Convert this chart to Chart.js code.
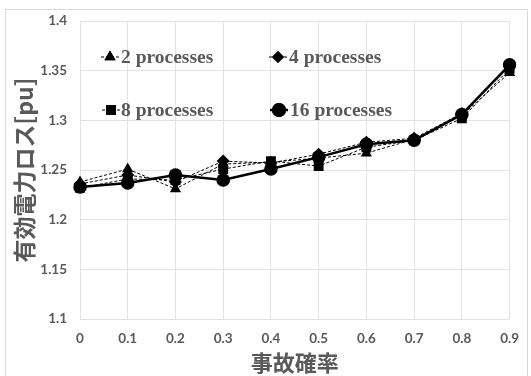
<!DOCTYPE html>
<html>
<head>
<meta charset="utf-8">
<script src="https://cdn.jsdelivr.net/npm/chart.js@4.4.0/dist/chart.umd.min.js"></script>
<style>
  html, body { margin: 0; padding: 0; background: #fff; overflow: hidden; }
  #frame { position: absolute; left: 5px; top: 9px; width: 521px; height: 400px; border: 1px solid #d9d9d9; }
  #wrap { position: absolute; left: 0; top: 0; width: 531px; height: 376px; }
</style>
</head>
<body>
<div id="frame"></div>
<div id="wrap"><canvas id="lossChart" width="531" height="376"></canvas></div>
<script>
const xLabels = ["0", "0.1", "0.2", "0.3", "0.4", "0.5", "0.6", "0.7", "0.8", "0.9"];

const proc2 = [1.238, 1.251, 1.231, 1.256, 1.258, 1.262, 1.267, 1.281, 1.305, 1.348];
const proc4 = [1.236, 1.245, 1.238, 1.259, 1.257, 1.266, 1.278, 1.282, 1.307, 1.354];
const proc8 = [1.232, 1.241, 1.240, 1.251, 1.259, 1.254, 1.273, 1.280, 1.302, 1.352];
const proc16 = [1.233, 1.237, 1.245, 1.240, 1.251, 1.263, 1.276, 1.280, 1.306, 1.356];

const Y_MIN = 1.1;
const Y_MAX = 1.4;
const Y_STEP = 0.05;

const GREY = "#595959";
const GRID = "#e3e3e3";

// legend laid out in 2x2 inside the plot, like the original
const legendSlots = [
  { mx: 110, tx: 121, y: 57, r: 6.5 },
  { mx: 278, tx: 289, y: 57, r: 6 },
  { mx: 111, tx: 121, y: 110, r: 7 },
  { mx: 279, tx: 290, y: 110, r: 7 }
];

const innerLegend = {
  id: "innerLegend",
  afterDraw(chart) {
    const ctx = chart.ctx;
    ctx.save();
    chart.data.datasets.forEach((ds, i) => {
      const s = legendSlots[i];
      ctx.strokeStyle = "#000";
      ctx.lineWidth = ds.borderWidth;
      ctx.setLineDash(ds.borderDash || []);
      ctx.beginPath();
      ctx.moveTo(s.mx - 9, s.y);
      ctx.lineTo(s.mx + 9, s.y);
      ctx.stroke();
      ctx.setLineDash([]);
      ctx.fillStyle = "#000";
      Chart.helpers.drawPoint(ctx, {
        pointStyle: ds.pointStyle,
        radius: s.r,
        borderWidth: 0,
        rotation: 0
      }, s.mx, s.y);
      ctx.fill();
      ctx.fillStyle = GREY;
      ctx.font = "bold 19.5px 'Liberation Serif'";
      ctx.textBaseline = "middle";
      ctx.textAlign = "left";
      ctx.fillText(ds.label, s.tx, s.y + 1);
    });
    ctx.restore();
  }
};

function makeSet(label, data, style, radius, width, dash) {
  return {
    label: label,
    data: data,
    borderColor: "#000",
    backgroundColor: "#000",
    borderWidth: width,
    borderDash: dash,
    pointStyle: style,
    pointRadius: radius,
    pointHoverRadius: radius,
    pointBackgroundColor: "#000",
    pointBorderColor: "#000",
    pointBorderWidth: 0,
    tension: 0
  };
}

const ctx = document.getElementById("lossChart").getContext("2d");

new Chart(ctx, {
  type: "line",
  data: {
    labels: xLabels,
    datasets: [
      makeSet("2 processes", proc2, "triangle", 6.5, 1, [3, 2]),
      makeSet("4 processes", proc4, "rectRot", 6.5, 1, [3, 2]),
      makeSet("8 processes", proc8, "rect", 7, 1, [3, 2]),
      makeSet("16 processes", proc16, "circle", 6.8, 2.5, [])
    ]
  },
  options: {
    responsive: false,
    animation: false,
    layout: { padding: { top: 20, right: 19, left: 0, bottom: 0 } },
    plugins: {
      legend: { display: false },
      tooltip: { enabled: false }
    },
    scales: {
      x: {
        offset: false,
        grid: { color: GRID, drawTicks: false },
        border: { display: false },
        ticks: {
          color: GREY,
          padding: 12,
          maxRotation: 0,
          autoSkip: false,
          font: { family: "Lato", size: 13.5, weight: "bold" }
        },
        title: {
          display: true,
          text: "事故確率",
          color: GREY,
          padding: { top: 0, bottom: 0 },
          font: { family: "Noto Sans CJK JP", size: 22, weight: "bold" }
        },
        afterFit(scale) { scale.height = 57; }
      },
      y: {
        min: Y_MIN,
        max: Y_MAX,
        grid: { color: GRID, drawTicks: false },
        border: { display: false },
        ticks: {
          stepSize: Y_STEP,
          color: GREY,
          padding: 13,
          font: { family: "Lato", size: 13.5, weight: "bold" },
          callback: v => String(+v.toFixed(2))
        },
        title: {
          display: true,
          text: "有効電力ロス[pu]",
          color: GREY,
          padding: { top: 10, bottom: 0 },
          font: { family: "Noto Sans CJK JP", size: 23, weight: "bold" }
        },
        afterFit(scale) { scale.width = 80; }
      }
    }
  },
  plugins: [innerLegend]
});
</script>
</body>
</html>
